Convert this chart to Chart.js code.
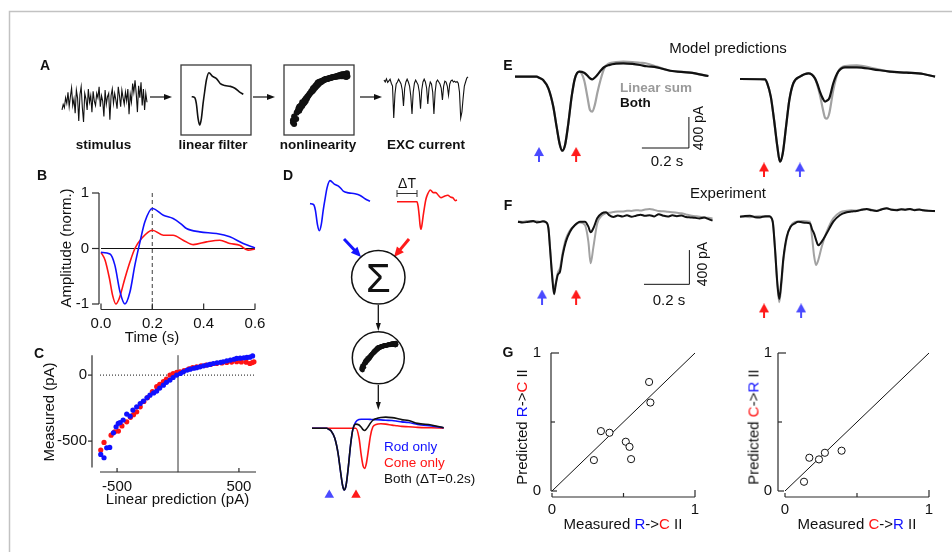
<!DOCTYPE html>
<html>
<head>
<meta charset="utf-8">
<script src="https://cdn.jsdelivr.net/npm/chart.js@4.4.1/dist/chart.umd.min.js"></script>
<style>
  html, body { margin: 0; padding: 0; background: #fff; }
  #stage { position: relative; width: 952px; height: 552px; overflow: hidden;
           font-family: "Liberation Sans", Arial, Helvetica, sans-serif; }
  #stage canvas, #stage svg { position: absolute; left: 0; top: 0; }
  .txt { position: absolute; white-space: nowrap; line-height: 1; color: #111; }
</style>
</head>
<body>
<div id="stage"></div>
<script>
// ---------- data ----------

// A: schematic traces
const stimulusTrace = [-0.45, -0.2, -0.35, 0.1, -0.15, 0.35, -0.3, 0.15, 0.55, -0.25, 0.05, -0.6, 0.45, 0.1, -0.95, 0.25, 0.6, -0.35, -1.0, 0.3,
  0.05, -0.45, 0.5, -0.1, 0.2, -0.55, 0.4, -0.05, -0.25, 0.3, 0.1, 0.6, -0.3, 0.2, -0.05, -0.75, 0.45, -0.2, 0.15, 0.3,
  -0.9, 0.2, 0.5, -0.15, 0.3, 0.0, -0.4, 0.6, 0.2, -0.3, 0.45, 0.1, -0.2, 0.35, -0.05, 0.5, -0.65, 0.25, -0.1, 0.75,
  0.35, 0.9, 0.3, -0.55, 0.65, 0.1, 0.8, -0.25, 0.5, -0.45, 0.3, -0.1];
const excTrace = [0, -0.05, 0.03, -0.06, -0.02, 0.02, -0.08, -0.15, -0.95, -0.35,
  -0.1, -0.05, 0.02, -0.04, -0.1, -0.25, -0.65, -0.2, -0.05, 0.02,
  -0.05, -0.15, -0.4, -0.85, -0.3, -0.08, 0.0, -0.06, -0.12, -0.3,
  -0.72, -0.25, -0.05, 0.02, -0.05, -0.2, -0.6, -0.2, -0.05, -0.1,
  -0.3, -0.85, -0.3, -0.05, 0.0, -0.05, -0.1, -0.2, -0.5, -0.15,
  -0.03, -0.05, -0.15, -0.38, -0.1, -0.02, 0.0, -0.05, -0.03, -0.06,
  -0.04, -0.08, -0.3, -0.95, -0.8, -0.45, -0.15, -0.05, 0.05, 0.08];

// B: linear filters (normalised), time in s
const bRodTime = [0, 0.035, 0.054, 0.074, 0.093, 0.113, 0.132, 0.152, 0.171, 0.2, 0.243, 0.281, 0.31, 0.333, 0.385, 0.45, 0.502, 0.554, 0.6];
const bRodFilter = [-0.07, -0.10, -0.30, -0.78, -1.0, -0.78, -0.30, 0.12, 0.48, 0.72, 0.60, 0.54, 0.45, 0.36, 0.30, 0.27, 0.21, 0.09, 0.01];
const bConeTime = [0, 0.016, 0.033, 0.045, 0.058, 0.071, 0.093, 0.113, 0.132, 0.158, 0.2, 0.243, 0.281, 0.32, 0.36, 0.411, 0.463, 0.502, 0.54, 0.573, 0.6];
const bConeFilter = [-0.07, -0.21, -0.54, -0.84, -1.0, -0.90, -0.54, -0.24, 0.0, 0.18, 0.33, 0.24, 0.24, 0.15, 0.07, 0.12, 0.15, 0.09, 0.06, -0.03, -0.01];
const bMarkTime = 0.2;
const bTimeTicks = [0, 0.2, 0.4, 0.6];
const bTimeLabels = ['0.0', '0.2', '0.4', '0.6'];
const bAmpTicks = [-1, 0, 1];
const bAmpLabels = ['-1', '0', '1'];

// C: measured vs linear prediction (pA)
const cRodPred = [-634, -607, -585, -560, -530, -508, -490, -475, -450, -421, -393, -370, -339, -310, -284, -255, -230, -200, -175, -150, -120, -95, -66, -40, -11, 20, 44, 75, 100, 130, 153, 180, 210, 240, 262, 290, 320, 350, 371, 400, 430, 460, 481, 510, 540, 565, 590, 612];
const cRodMeas = [-601, -626, -551, -548, -437, -392, -365, -359, -340, -295, -311, -265, -240, -215, -197, -172, -152, -135, -121, -98, -76, -55, -38, -18, 0, 12, 25, 38, 45, 52, 56, 63, 70, 76, 81, 88, 93, 97, 101, 108, 114, 120, 126, 128, 131, 134, 136, 145];
const cConePred = [-634, -607, -549, -520, -489, -460, -421, -390, -365, -339, -310, -280, -250, -210, -175, -150, -120, -95, -66, -40, -10, 16, 50, 90, 120, 153, 190, 230, 270, 317, 360, 400, 440, 481, 520, 560, 590, 610, 623];
const cConeMeas = [-568, -510, -455, -430, -424, -385, -354, -320, -300, -278, -240, -200, -170, -125, -88, -70, -50, -30, 0, 12, 20, 25, 35, 48, 56, 63, 70, 76, 82, 88, 92, 96, 99, 101, 100, 98, 88, 95, 101];
const cPredTicks = [-500, 500];
const cPredLabels = ['-500', '500'];
const cMeasTicks = [0, -500];
const cMeasLabels = ['0', '-500'];

// D: model responses to rod / cone / both flashes (pA), time in s
const dRodOnly = [0, 0, -13, -43, -150, -387, -645, -881, -955, -881, -601, -258, -21, 100, 135, 140, 140, 140, 140, 140, 138, 136, 134, 130, 125, 120, 110, 100, 90, 60, 35, 10];
const dConeOnly = [0, 0, 0, 0, 0, 0, 0, 0, 0, 0, 0, 0, 0, 0, -150, -420, -580, -620, -540, -380, -120, 20, 60, 70, 65, 50, 40, 30, 25, 15, 8, 3];
const dFlashTimes = [0.108, 0.275];
const dFlashKinds = ['rod', 'cone'];

// E: model predictions (pA), time in s
const eLeftTime = [0, 0.092, 0.103, 0.120, 0.142, 0.163, 0.177, 0.191, 0.201, 0.213, 0.227, 0.241, 0.255, 0.274, 0.294, 0.308, 0.319, 0.329, 0.340, 0.350, 0.365, 0.380, 0.400, 0.430, 0.461, 0.500, 0.532, 0.560, 0.603, 0.660, 0.745, 0.823];
const eLeftBoth = [0, 0, -13, -43, -150, -387, -645, -881, -955, -881, -601, -258, -21, 65, 52, 15, -20, -34, -10, 22, 80, 125, 150, 168, 173, 165, 151, 135, 121, 77, 52, 9];
const eLeftSum = [0, 0, -13, -43, -150, -387, -645, -881, -955, -881, -601, -258, -21, 65, -43, -258, -429, -450, -360, -214, -30, 110, 170, 188, 194, 190, 180, 170, 130, 77, 52, 9];
const eLeftFlashes = [0.102, 0.26];
const eLeftKinds = ['rod', 'cone'];
const eRightTime = [0, 0.106, 0.116, 0.131, 0.145, 0.159, 0.170, 0.182, 0.196, 0.210, 0.227, 0.255, 0.291, 0.319, 0.330, 0.340, 0.352, 0.362, 0.370, 0.380, 0.397, 0.418, 0.447, 0.497, 0.567, 0.638, 0.709, 0.780, 0.830];
const eRightBoth = [0, -4, -55, -228, -529, -873, -1067, -958, -615, -271, -55, 30, 73, 9, -70, -163, -250, -292, -280, -249, -55, 95, 151, 151, 125, 95, 82, 65, 30];
const eRightSum = [0, -4, -55, -228, -529, -873, -1067, -958, -615, -271, -55, 30, 73, 9, -90, -206, -380, -500, -510, -443, -142, 95, 168, 176, 138, 95, 82, 65, 30];
const eRightFlashes = [0.102, 0.255];
const eRightKinds = ['cone', 'rod'];
const eScaleBarT = [0.54, 0.74, 0.74];
const eScaleBarV = [-920, -920, -520];

// F: experiment (pA), time in s
const fLeftTime = [0, 0.020, 0.038, 0.055, 0.067, 0.082, 0.097, 0.110, 0.123, 0.134, 0.141, 0.150, 0.159, 0.166, 0.175, 0.185, 0.197, 0.211, 0.229, 0.251, 0.273, 0.295, 0.310, 0.320, 0.332, 0.349, 0.369, 0.388, 0.40, 0.42, 0.44, 0.46, 0.48, 0.50, 0.52, 0.54, 0.56, 0.58, 0.60, 0.62, 0.64, 0.66, 0.68, 0.70, 0.72, 0.74, 0.76, 0.78, 0.80, 0.82, 0.84, 0.857];
const fLeftBoth = [0, -10, -5, 6, 8, -8, -4, 5, -7, -77, -310, -622, -847, -739, -622, -583, -389, -233, -117, -39, 0, 0, -58, -124, -77, 40, 98, 110, 80, 55, 72, 60, 75, 58, 70, 82, 68, 76, 62, 88, 70, 60, 74, 65, 72, 55, 50, 45, 38, 48, 30, 12];
const fLeftSum = [5, 0, 8, -4, 3, 6, -2, 2, -4, -70, -290, -600, -800, -720, -600, -540, -360, -200, -100, -40, -10, -39, -233, -486, -300, -20, 70, 100, 105, 112, 120, 118, 128, 125, 135, 130, 142, 148, 138, 125, 121, 115, 110, 104, 98, 85, 72, 65, 58, 50, 45, 38];
const fLeftFlashes = [0.106, 0.256];
const fLeftKinds = ['rod', 'cone'];
const fRightTime = [0, 0.022, 0.044, 0.066, 0.088, 0.110, 0.129, 0.144, 0.154, 0.164, 0.173, 0.182, 0.191, 0.206, 0.223, 0.242, 0.257, 0.272, 0.290, 0.308, 0.318, 0.326, 0.335, 0.345, 0.360, 0.382, 0.411, 0.441, 0.470, 0.49, 0.514, 0.536, 0.558, 0.58, 0.602, 0.624, 0.646, 0.668, 0.690, 0.71, 0.73, 0.749, 0.77, 0.79, 0.808, 0.83, 0.859];
const fRightBoth = [0, 8, 12, -6, -8, 6, 4, -58, -369, -759, -961, -759, -486, -233, -117, -77, -60, -65, -70, -77, -150, -194, -270, -334, -292, -194, -58, 20, 51, 60, 67, 80, 90, 75, 67, 85, 98, 80, 75, 88, 82, 90, 76, 84, 75, 70, 67];
const fRightSum = [4, -2, -5, 3, 6, -3, 0, -50, -360, -780, -999, -800, -520, -250, -110, -60, -55, -50, -52, -58, -250, -450, -564, -505, -350, -175, -19, 51, 70, 75, 72, 85, 88, 80, 70, 90, 95, 85, 80, 85, 85, 88, 80, 82, 72, 68, 65];
const fRightFlashes = [0.106, 0.269];
const fRightKinds = ['cone', 'rod'];
const fScaleBarT = [0.555, 0.755, 0.755];
const fScaleBarV = [-731, -731, -331];

// G: interaction index, measured vs predicted
const gRcMeasured = [0.679, 0.688, 0.342, 0.402, 0.516, 0.542, 0.553, 0.293];
const gRcPredicted = [0.790, 0.641, 0.434, 0.422, 0.357, 0.320, 0.231, 0.224];
const gCrMeasured = [0.132, 0.169, 0.236, 0.277, 0.393];
const gCrPredicted = [0.067, 0.241, 0.229, 0.277, 0.292];
const gTicks = [0, 0.5, 1];
const gLabels = ['0', '', '1'];

// ---------- drawing ----------
const W = 952, H = 552;
const BLUE = '#1010ff', RED = '#ff1414', GREY = '#a2a2a2', INK = '#111';
const FLASH = { rod: '#4a4aff', cone: '#ff1a1a' };
const stage = document.getElementById('stage');

Chart.defaults.animation = false;
Chart.defaults.responsive = false;
Chart.defaults.events = [];
Chart.defaults.font.family = '"Liberation Sans", Arial, sans-serif';
Chart.defaults.plugins.legend.display = false;
Chart.defaults.plugins.tooltip.enabled = false;

// Matlab-like detached axes with inward ticks
const offsetAxes = {
  id: 'offsetAxes',
  afterDatasetsDraw(chart, args, opts) {
    const { ctx, chartArea } = chart;
    const xs = chart.scales.x, ys = chart.scales.y;
    const seg = (x1, y1, x2, y2) => { ctx.beginPath(); ctx.moveTo(x1, y1); ctx.lineTo(x2, y2); ctx.stroke(); };
    ctx.save();
    ctx.strokeStyle = '#2a2a2a';
    ctx.fillStyle = INK;
    ctx.lineWidth = 1.2;
    ctx.font = '15px "Liberation Sans", Arial, sans-serif';
    ctx.textBaseline = 'middle';
    if (opts.x) {
      const a = opts.x, y0 = chartArea.bottom + a.offset;
      seg(xs.getPixelForValue(a.from), y0, xs.getPixelForValue(a.to), y0);
      ctx.textAlign = 'center';
      a.ticks.forEach((v, i) => {
        const px = xs.getPixelForValue(v);
        seg(px, y0, px, y0 - a.tickLen[i]);
        if (a.labels[i]) ctx.fillText(a.labels[i], px, y0 + a.gap);
      });
    }
    if (opts.y) {
      const a = opts.y, x0 = chartArea.left + a.offset;
      seg(x0, ys.getPixelForValue(a.from), x0, ys.getPixelForValue(a.to));
      ctx.textAlign = 'right';
      a.ticks.forEach((v, i) => {
        const py = ys.getPixelForValue(v);
        seg(x0, py, x0 + a.tickLen[i], py);
        if (a.labels[i]) ctx.fillText(a.labels[i], x0 - a.gap, py);
      });
    }
    ctx.restore();
  }
};

const pts = (xs, ys) => xs.map((x, i) => ({ x, y: ys[i] }));

function trace(xs, ys, color, width, extra) {
  return Object.assign({ data: pts(xs, ys), showLine: true, borderColor: color, borderWidth: width,
    pointRadius: 0, tension: 0, clip: false }, extra || {});
}
function dots(xs, ys, color, r, extra) {
  return Object.assign({ data: pts(xs, ys), showLine: false, pointRadius: r, backgroundColor: color,
    borderColor: color, borderWidth: 0, clip: false }, extra || {});
}
const smooth = { cubicInterpolationMode: 'monotone' };

function arrowIcon(color) {
  const c = document.createElement('canvas');
  c.width = 10; c.height = 15;
  const g = c.getContext('2d');
  g.fillStyle = color;
  g.beginPath(); g.moveTo(5, 0); g.lineTo(10, 9); g.lineTo(0, 9); g.closePath(); g.fill();
  g.fillRect(4, 8, 2, 7);
  return c;
}
function flashMarkers(times, kinds, level) {
  return times.map((t, i) => ({ data: [{ x: t, y: level }], pointStyle: arrowIcon(FLASH[kinds[i]]),
    pointRadius: 6, showLine: false, clip: false }));
}

// area = [left px, right px, top px, bottom px] of the data window
// datasets listed bottom-to-top
function makePanel({ xRange, yRange, area, datasets, axes }) {
  const canvas = document.createElement('canvas');
  canvas.width = W; canvas.height = H;
  stage.appendChild(canvas);
  datasets.forEach((d, i) => { d.order = datasets.length - i; });
  return new Chart(canvas, {
    type: 'scatter',
    data: { datasets },
    options: {
      layout: { padding: { left: area[0], right: W - area[1], top: area[2], bottom: H - area[3] } },
      scales: {
        x: { type: 'linear', min: xRange[0], max: xRange[1], display: false },
        y: { type: 'linear', min: yRange[0], max: yRange[1], display: false }
      },
      plugins: { offsetAxes: axes || {} }
    },
    plugins: axes ? [offsetAxes] : []
  });
}

// schematic shapes (frame, boxes, arrows, circles)
function svgArrow(x1, y1, x2, y2, color, w, hl, hw) {
  const a = Math.atan2(y2 - y1, x2 - x1);
  const bx = x2 - hl * Math.cos(a), by = y2 - hl * Math.sin(a);
  const px = -Math.sin(a) * hw / 2, py = Math.cos(a) * hw / 2;
  return `<line x1="${x1}" y1="${y1}" x2="${bx + Math.cos(a)}" y2="${by + Math.sin(a)}" stroke="${color}" stroke-width="${w}"/>` +
    `<polygon points="${x2},${y2} ${bx + px},${by + py} ${bx - px},${by - py}" fill="${color}"/>`;
}
stage.insertAdjacentHTML('beforeend', `<svg width="${W}" height="${H}">
  <path d="M9.5 ${H} V11.5 H${W}" fill="none" stroke="#c2c2c2" stroke-width="1.5"/>
  <rect x="181" y="65" width="70" height="70" fill="none" stroke="#3a3a3a" stroke-width="1.3"/>
  <rect x="284" y="65" width="70" height="70" fill="none" stroke="#3a3a3a" stroke-width="1.3"/>
  ${svgArrow(150, 97, 172, 97, '#111', 1.2, 8, 6)}
  ${svgArrow(253, 97, 275, 97, '#111', 1.2, 8, 6)}
  ${svgArrow(360, 97, 382, 97, '#111', 1.2, 8, 6)}
  ${svgArrow(344, 239, 361, 257, '#1414ff', 3, 10, 9)}
  ${svgArrow(409, 239, 394, 257, '#ff1a1a', 3, 10, 9)}
  <circle cx="378.3" cy="277.3" r="26.7" fill="none" stroke="#111" stroke-width="1.5"/>
  <circle cx="378.3" cy="357.8" r="26" fill="none" stroke="#111" stroke-width="1.5"/>
  ${svgArrow(378.3, 305, 378.3, 331, '#111', 1.3, 8, 5)}
  ${svgArrow(378.3, 385, 378.3, 410, '#111', 1.3, 8, 5)}
  <path d="M397 193.5 H417 M397 190 V197 M417 190 V197" stroke="#333" stroke-width="1"/>
</svg>`);

// A: stimulus, filter, nonlinearity, EXC current
makePanel({ xRange: [0, stimulusTrace.length - 1], yRange: [-1, 1], area: [62, 147, 78, 122],
  datasets: [trace(stimulusTrace.map((v, i) => i), stimulusTrace, INK, 1.1)] });
makePanel({ xRange: [0, 0.6], yRange: [-1, 1], area: [191.7, 243.3, 64.2, 125],
  datasets: [trace(bRodTime, bRodFilter, INK, 1.6, smooth)] });
makePanel({ xRange: [-640, 640], yRange: [-700, 150], area: [292.7, 348.2, 72.9, 128.9],
  datasets: [dots(cConePred, cConeMeas, INK, 3), dots(cRodPred, cRodMeas, INK, 3)] });
makePanel({ xRange: [0, excTrace.length - 1], yRange: [-1, 0.1], area: [384, 468, 76, 120],
  datasets: [trace(excTrace.map((v, i) => i), excTrace, INK, 1.1)] });

// B
makePanel({ xRange: [0, 0.6], yRange: [-1, 1], area: [101, 255, 193, 304],
  datasets: [
    trace([0, 0.6], [0, 0], INK, 1.1),
    trace([bMarkTime, bMarkTime], [1, -1.09], '#6a6a6a', 1.3, { borderDash: [4, 3] }),
    trace(bConeTime, bConeFilter, RED, 1.6, smooth),
    trace(bRodTime, bRodFilter, BLUE, 1.6, smooth)
  ],
  axes: {
    x: { offset: 5.5, from: 0, to: 0.6, ticks: bTimeTicks, tickLen: [6, 6, 6, 6], labels: bTimeLabels, gap: 14 },
    y: { offset: -2, from: -1, to: 1, ticks: bAmpTicks, tickLen: [-7, -7, -7], labels: bAmpLabels, gap: 10 }
  } });

// C
makePanel({ xRange: [-640, 640], yRange: [-700, 150], area: [100, 256, 355.3, 467.5],
  datasets: [
    trace([-640, 640], [0, 0], INK, 1, { borderDash: [1, 2] }),
    trace([0, 0], [150, -735], '#8a8a8a', 1),
    dots(cConePred, cConeMeas, RED, 2.6),
    dots(cRodPred, cRodMeas, BLUE, 2.6)
  ],
  axes: {
    x: { offset: 4.5, from: -640, to: 640, ticks: cPredTicks, tickLen: [4, 4], labels: cPredLabels, gap: 15 },
    y: { offset: -8, from: -700, to: 150, ticks: cMeasTicks, tickLen: [-4, -4], labels: cMeasLabels, gap: 5 }
  } });

// D: filter glyphs, nonlinearity glyph, responses
makePanel({ xRange: [0, 0.6], yRange: [-1, 1], area: [310, 370, 172.5, 230.7],
  datasets: [trace(bRodTime, bRodFilter, BLUE, 1.6, smooth)] });
makePanel({ xRange: [-0.3, 0.6], yRange: [-1, 1], area: [397, 457, 170.1, 229.3],
  datasets: [trace([-0.3].concat(bConeTime), [bConeFilter[0]].concat(bConeFilter), RED, 1.6, smooth)] });
makePanel({ xRange: [-640, 640], yRange: [-700, 150], area: [361.6, 396.6, 342.9, 372.6],
  datasets: [dots(cConePred, cConeMeas, INK, 2.4), dots(cRodPred, cRodMeas, INK, 2.4)] });
makePanel({ xRange: [0, 0.9], yRange: [-1100, 200], area: [312, 456, 415.4, 499.4],
  datasets: [
    trace(eLeftTime, dConeOnly, RED, 1.6, smooth),
    trace(eLeftTime, dRodOnly, BLUE, 1.6, smooth),
    trace(eLeftTime, eLeftBoth, INK, 1.6, smooth)
  ].concat(dFlashTimes.map((t, i) => ({ data: [{ x: t, y: -1032 }], pointStyle: 'triangle', pointRadius: 5.5,
    backgroundColor: FLASH[dFlashKinds[i]], borderWidth: 0, showLine: false, clip: false }))) });

// E
makePanel({ xRange: [0, 0.85], yRange: [-1300, 300], area: [515, 714.75, 53.45, 177.45],
  datasets: [
    trace(eLeftTime, eLeftSum, GREY, 2.2, smooth),
    trace(eLeftTime, eLeftBoth, INK, 2.2, smooth),
    trace(eScaleBarT, eScaleBarV, INK, 1)
  ].concat(flashMarkers(eLeftFlashes, eLeftKinds, -1004)) });
makePanel({ xRange: [0, 0.85], yRange: [-1300, 300], area: [740, 939.75, 55.75, 179.75],
  datasets: [
    trace(eRightTime, eRightSum, GREY, 2.2, smooth),
    trace(eRightTime, eRightBoth, INK, 2.2, smooth)
  ].concat(flashMarkers(eRightFlashes, eRightKinds, -1174)) });

// F
makePanel({ xRange: [0, 0.9], yRange: [-1200, 300], area: [518, 722.3, 196, 324.5],
  datasets: [
    trace(fLeftTime, fLeftSum, GREY, 2, smooth),
    trace(fLeftTime, fLeftBoth, INK, 2, smooth),
    trace(fScaleBarT, fScaleBarV, INK, 1)
  ].concat(flashMarkers(fLeftFlashes, fLeftKinds, -879)) });
makePanel({ xRange: [0, 0.9], yRange: [-1200, 300], area: [740, 944.3, 191, 319.5],
  datasets: [
    trace(fRightTime, fRightSum, GREY, 2, smooth),
    trace(fRightTime, fRightBoth, INK, 2, smooth)
  ].concat(flashMarkers(fRightFlashes, fRightKinds, -1100)) });

// G
const gCircles = { pointStyle: 'circle', backgroundColor: '#fff', borderColor: INK, borderWidth: 1 };
makePanel({ xRange: [0, 1], yRange: [0, 1], area: [552, 695, 353, 491],
  datasets: [trace([0, 1], [0, 1], INK, 1), dots(gRcMeasured, gRcPredicted, '#fff', 3.6, gCircles)],
  axes: {
    x: { offset: 6, from: 0, to: 1, ticks: gTicks, tickLen: [4, 4, 7], labels: gLabels, gap: 13 },
    y: { offset: -1, from: 0, to: 1, ticks: gTicks, tickLen: [6, 4, 8], labels: gLabels, gap: 10 }
  } });
makePanel({ xRange: [0, 1], yRange: [0, 1], area: [785, 929, 353, 491],
  datasets: [trace([0, 1], [0, 1], INK, 1), dots(gCrMeasured, gCrPredicted, '#fff', 3.6, gCircles)],
  axes: {
    x: { offset: 6, from: 0, to: 1, ticks: gTicks, tickLen: [4, 4, 7], labels: gLabels, gap: 13 },
    y: { offset: -7, from: 0, to: 1, ticks: gTicks, tickLen: [6, 4, 8], labels: gLabels, gap: 6 }
  } });

// ---------- text ----------
function label(html, x, y, o) {
  o = o || {};
  const d = document.createElement('div');
  d.className = 'txt';
  d.innerHTML = html;
  d.style.left = x + 'px';
  d.style.top = y + 'px';
  d.style.fontSize = (o.size || 15) + 'px';
  if (o.bold) d.style.fontWeight = 'bold';
  if (o.color) d.style.color = o.color;
  const ax = o.align === 'left' ? '0' : o.align === 'right' ? '-100%' : '-50%';
  d.style.transform = `translate(${ax}, -50%)` + (o.rot ? ` rotate(${o.rot}deg)` : '');
  stage.appendChild(d);
}
const blue = s => `<span style="color:${BLUE}">${s}</span>`;
const red = s => `<span style="color:${RED}">${s}</span>`;

['A', 'B', 'C', 'D', 'E', 'F', 'G'].forEach((p, i) => {
  const spots = [[45, 65], [42, 175], [39, 353], [288, 175], [508, 65], [508, 205], [508, 352]];
  label(p, spots[i][0], spots[i][1], { bold: true, size: 14 });
});
label('stimulus', 103.5, 145, { bold: true, size: 13.5 });
label('linear filter', 213, 145, { bold: true, size: 13.5 });
label('nonlinearity', 318, 145, { bold: true, size: 13.5 });
label('EXC current', 426, 145, { bold: true, size: 13.5 });
label('Amplitude (norm.)', 65, 248, { rot: -90 });
label('Time (s)', 152, 336);
label('Measured (pA)', 48, 412, { rot: -90 });
label('Linear prediction (pA)', 177.5, 498);
label('&Delta;T', 407, 183, { size: 14 });
label('&Sigma;', 378.3, 278, { size: 40 });
label('Rod only', 384, 447, { align: 'left', size: 13.5, color: BLUE });
label('Cone only', 384, 463, { align: 'left', size: 13.5, color: RED });
label('Both (&Delta;T=0.2s)', 384, 479, { align: 'left', size: 13.5 });
label('Model predictions', 728, 47);
label('Linear sum', 620, 88, { align: 'left', bold: true, size: 13.5, color: '#9a9a9a' });
label('Both', 620, 103, { align: 'left', bold: true, size: 13.5 });
label('400 pA', 698, 128, { rot: -90, size: 14 });
label('0.2 s', 667, 160);
label('Experiment', 728, 192);
label('400 pA', 702, 264, { rot: -90, size: 14 });
label('0.2 s', 669, 299);
label(`Predicted ${blue('R')}-&gt;${red('C')} II`, 521, 427, { rot: -90 });
label(`Measured ${blue('R')}-&gt;${red('C')} II`, 623, 523);
label(`Predicted ${red('C')}-&gt;${blue('R')} II`, 753, 427, { rot: -90 });
label(`Measured ${red('C')}-&gt;${blue('R')} II`, 857, 523);
</script>
</body>
</html>
